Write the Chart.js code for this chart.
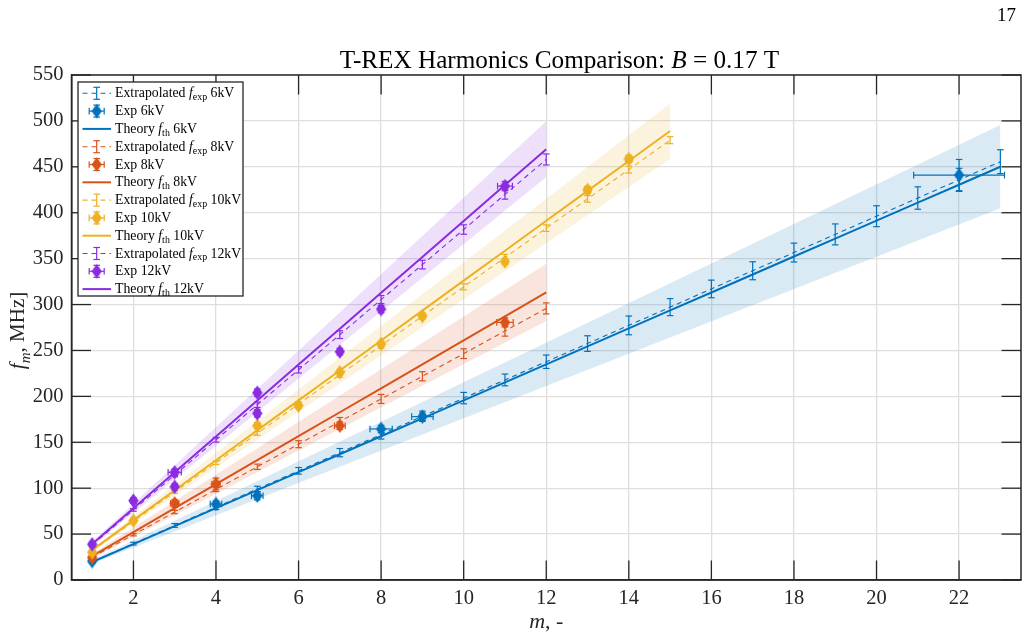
<!DOCTYPE html>
<html><head><meta charset="utf-8">
<script src="https://cdn.jsdelivr.net/npm/chart.js@4.4.1/dist/chart.umd.min.js"></script>
<style>
html,body{margin:0;padding:0;background:#fff;}
#wrap{position:relative;width:1029px;height:640px;}
#pg{position:absolute;left:997px;top:4px;font:19px 'Liberation Serif','Times New Roman',serif;color:#000;}
canvas{display:block;}
</style></head><body>
<div id="wrap"><canvas id="c" width="1029" height="640"></canvas><div id="pg">17</div></div>
<script>
// ---------------- data ----------------
const xTicks = [2, 4, 6, 8, 10, 12, 14, 16, 18, 20, 22];
const yTicks = [0, 50, 100, 150, 200, 250, 300, 350, 400, 450, 500, 550];

// 6 kV
const m6 = [1,2,3,4,5,6,7,8,9,10,11,12,13,14,15,16,17,18,19,20,21,22,23];
const theory6 = [19.6,39.1,58.7,78.3,97.9,117.4,137.0,156.6,176.1,195.7,215.3,234.8,254.4,274.0,293.6,313.1,332.7,352.3,371.8,391.4,411.0,430.5,450.1];
const ext6 = [19.8,39.6,59.4,79.2,99.1,118.9,138.7,158.5,178.3,198.1,217.9,237.7,257.5,277.3,297.2,317.0,336.8,356.6,376.4,396.2,416.0,435.8,455.6];
const extErr6 = [1.0,1.5,2.0,2.5,3.0,3.6,4.5,5.0,5.6,6.2,6.4,7.3,8.5,10.2,9.3,9.6,9.8,10.3,11.4,11.4,12.2,12.6,13.0];
const expM6 = [1, 4, 5, 8, 9, 22];
const expF6 = [20.5, 82.8, 91.8, 164.5, 177.9, 441.0];
const expXErr6 = [0.05, 0.14, 0.14, 0.27, 0.26, 1.1];
const expYErr6 = [2.0, 3.0, 4.5, 4.0, 4.0, 17.0];
const bandM6 = [1, 23];
const bandLo6 = [17.6, 405.0];
const bandHi6 = [21.5, 495.5];

// 8 kV
const m8 = [1,2,3,4,5,6,7,8,9,10,11,12];
const theory8 = [26.1,52.2,78.3,104.4,130.5,156.6,182.7,208.8,234.9,261.0,287.1,313.2];
const ext8 = [24.7,49.3,74.0,98.6,123.3,147.9,172.6,197.2,221.9,246.5,271.2,295.8];
const extErr8 = [0.8,1.3,1.8,2.3,2.9,3.8,4.4,4.9,5.0,5.3,5.6,6.0];
const expM8 = [1, 3, 4, 7, 11];
const expF8 = [24.5, 83.5, 104.6, 168.0, 280.6];
const expXErr8 = [0.05, 0.1, 0.1, 0.13, 0.2];
const expYErr8 = [2.0, 4.0, 6.4, 4.0, 5.0];
const bandM8 = [1, 12];
const bandLo8 = [23.5, 282.0];
const bandHi8 = [28.7, 344.5];

// 10 kV
const m10 = [1,2,3,4,5,6,7,8,9,10,11,12,13,14,15];
const theory10 = [32.6,65.2,97.8,130.4,163.0,195.6,228.2,260.8,293.4,326.0,358.6,391.2,423.8,456.4,489.0];
const ext10 = [31.9,63.9,95.8,127.7,159.7,191.6,223.5,255.4,287.4,319.3,351.2,383.2,415.1,447.0,479.0];
const extErr10 = [0.8,1.2,1.5,1.8,2.1,2.4,2.6,2.8,3.0,3.3,3.4,3.6,3.6,3.8,3.8];
const expM10 = [1, 2, 5, 6, 7, 8, 9, 11, 13, 14];
const expF10 = [30.1, 64.6, 168.1, 189.9, 226.2, 257.0, 287.5, 346.7, 424.8, 458.5];
const expXErr10 = [0.05, 0.05, 0.05, 0.05, 0.05, 0.05, 0.05, 0.05, 0.08, 0.08];
const expYErr10 = [2.0, 2.5, 3.0, 3.0, 3.0, 3.0, 3.0, 3.0, 4.0, 4.0];
const bandM10 = [1, 15];
const bandLo10 = [30.6, 458.5];
const bandHi10 = [34.6, 519.0];

// 12 kV
const m12 = [1,2,3,4,5,6,7,8,9,10,11,12];
const theory12 = [39.1,78.2,117.3,156.4,195.5,234.6,273.7,312.8,351.9,391.0,430.1,469.2];
const ext12 = [38.2,76.3,114.5,152.7,190.9,229.0,267.2,305.4,343.5,381.7,419.9,458.0];
const extErr12 = [0.9,1.4,2.0,2.5,3.0,3.5,4.2,4.4,4.7,5.1,5.1,6.0];
const expM12 = [1, 2, 3, 3, 5, 5, 7, 8, 11];
const expF12 = [38.9, 86.4, 117.3, 101.6, 204.0, 181.5, 248.7, 295.0, 429.0];
const expXErr12 = [0.05, 0.05, 0.16, 0.05, 0.05, 0.05, 0.05, 0.05, 0.18];
const expYErr12 = [2.5, 3.0, 3.5, 3.0, 4.0, 4.0, 3.5, 4.0, 5.0];
const bandM12 = [1, 12];
const bandLo12 = [36.6, 439.0];
const bandHi12 = [41.6, 499.5];

const voltages = ['6kV', '8kV', '10kV', '12kV'];
const titleParts = [['T-REX Harmonics Comparison: ', false], ['B', true], [' = 0.17 T', false]];
// --------------------------------------

const FONT = "'Liberation Serif','Times New Roman',serif";
const INK = '#262626';
const COLORS = ['#0072BD', '#D95319', '#EDB120', '#8A2BE2'];
function rgba(hex, a) {
  const n = parseInt(hex.slice(1), 16);
  return `rgba(${(n >> 16) & 255},${(n >> 8) & 255},${n & 255},${a})`;
}
function diamond(color) {
  const c = document.createElement('canvas');
  c.width = 11; c.height = 15;
  const g = c.getContext('2d');
  g.fillStyle = color;
  g.beginPath(); g.moveTo(5.5, 0.3); g.lineTo(10.7, 7.5); g.lineTo(5.5, 14.7); g.lineTo(0.3, 7.5); g.closePath(); g.fill();
  return c;
}
const pts = (xs, ys) => xs.map((x, i) => ({ x: x, y: ys[i] }));

const series = [
  { m: m6, th: theory6, ext: ext6, extErr: extErr6, eM: expM6, eF: expF6, eX: expXErr6, eY: expYErr6, bM: bandM6, bLo: bandLo6, bHi: bandHi6 },
  { m: m8, th: theory8, ext: ext8, extErr: extErr8, eM: expM8, eF: expF8, eX: expXErr8, eY: expYErr8, bM: bandM8, bLo: bandLo8, bHi: bandHi8 },
  { m: m10, th: theory10, ext: ext10, extErr: extErr10, eM: expM10, eF: expF10, eX: expXErr10, eY: expYErr10, bM: bandM10, bLo: bandLo10, bHi: bandHi10 },
  { m: m12, th: theory12, ext: ext12, extErr: extErr12, eM: expM12, eF: expF12, eX: expXErr12, eY: expYErr12, bM: bandM12, bLo: bandLo12, bHi: bandHi12 }
];

const datasets = [];
series.forEach((s, k) => {
  const col = COLORS[k], v = voltages[k];
  datasets.push({ label: 'Band hi ' + v, kind: 'band', data: pts(s.bM, s.bHi), showLine: true, pointRadius: 0,
    borderColor: 'rgba(0,0,0,0)', borderWidth: 0, backgroundColor: rgba(col, 0.15), fill: '+1', order: 20 - k });
  datasets.push({ label: 'Band lo ' + v, kind: 'band', data: pts(s.bM, s.bLo), showLine: true, pointRadius: 0,
    borderColor: 'rgba(0,0,0,0)', borderWidth: 0, fill: false, order: 20 - k });
  datasets.push({ label: 'Extrapolated f_exp ' + v, kind: 'ext', data: pts(s.m, s.ext), errY: s.extErr, errColor: col,
    showLine: true, pointRadius: 0, borderColor: col, borderWidth: 1.1, borderDash: [5, 4], fill: false, order: 10 - k * 2 });
  datasets.push({ label: 'Theory f_th ' + v, kind: 'th', data: pts(s.m, s.th),
    showLine: true, pointRadius: 0, borderColor: col, borderWidth: 2, fill: false, order: 10 - k * 2 });
  datasets.push({ label: 'Exp ' + v, kind: 'exp', data: pts(s.eM, s.eF), errX: s.eX, errY: s.eY, errColor: col,
    showLine: false, pointStyle: diamond(col), pointRadius: 7, borderColor: col, backgroundColor: col, order: 9 - k * 2 });
});

function seg(ctx, x1, y1, x2, y2) { ctx.beginPath(); ctx.moveTo(x1, y1); ctx.lineTo(x2, y2); ctx.stroke(); }

function drawErr(chart, ds) {
  const ctx = chart.ctx, xs = chart.scales.x, ys = chart.scales.y, cap = 3.3;
  ctx.save();
  ctx.strokeStyle = ds.errColor; ctx.lineWidth = 1.2; ctx.setLineDash([]);
  ds.data.forEach((p, i) => {
    const px = xs.getPixelForValue(p.x), py = ys.getPixelForValue(p.y);
    const ey = ds.errY ? ds.errY[i] : 0, ex = ds.errX ? ds.errX[i] : 0;
    if (ey > 0) {
      const t = ys.getPixelForValue(p.y + ey), b = ys.getPixelForValue(p.y - ey);
      seg(ctx, px, t, px, b); seg(ctx, px - cap, t, px + cap, t); seg(ctx, px - cap, b, px + cap, b);
    }
    if (ex > 0) {
      const l = xs.getPixelForValue(p.x - ex), r = xs.getPixelForValue(p.x + ex);
      seg(ctx, l, py, r, py); seg(ctx, l, py - cap, l, py + cap); seg(ctx, r, py - cap, r, py + cap);
    }
  });
  ctx.restore();
}

const errPlugin = {
  id: 'errbars',
  beforeDatasetDraw(chart, args) { const ds = chart.data.datasets[args.index]; if (ds.kind === 'exp') drawErr(chart, ds); },
  afterDatasetDraw(chart, args) { const ds = chart.data.datasets[args.index]; if (ds.kind === 'ext') drawErr(chart, ds); }
};

// draw mixed text: parts = [text, italic, sub]
function richText(ctx, x, y, parts, size, align) {
  const widths = parts.map(p => {
    const sz = p[2] ? size * 0.72 : size;
    ctx.font = `${p[1] ? 'italic ' : ''}${sz}px ${FONT}`;
    return ctx.measureText(p[0]).width;
  });
  const total = widths.reduce((a, b) => a + b, 0);
  let cx = align === 'center' ? x - total / 2 : x;
  parts.forEach((p, i) => {
    const sz = p[2] ? size * 0.72 : size;
    ctx.font = `${p[1] ? 'italic ' : ''}${sz}px ${FONT}`;
    ctx.fillText(p[0], cx, p[2] ? y + size * 0.28 : y);
    cx += widths[i];
  });
}

const decoPlugin = {
  id: 'deco',
  afterDatasetsDraw(chart) {
    const ctx = chart.ctx, a = chart.chartArea, xs = chart.scales.x, ys = chart.scales.y;
    const TL = 19.5;
    ctx.save();
    ctx.strokeStyle = INK; ctx.lineWidth = 1.3; ctx.setLineDash([]);
    xTicks.forEach(v => { const px = xs.getPixelForValue(v); seg(ctx, px, a.bottom, px, a.bottom - TL); seg(ctx, px, a.top, px, a.top + TL); });
    yTicks.forEach(v => { const py = ys.getPixelForValue(v); seg(ctx, a.left, py, a.left + TL, py); seg(ctx, a.right, py, a.right - TL, py); });
    ctx.lineWidth = 1.5;
    ctx.strokeRect(a.left, a.top, a.right - a.left, a.bottom - a.top);
    ctx.restore();
  },
  afterDraw(chart) {
    const ctx = chart.ctx, a = chart.chartArea;
    ctx.save();
    ctx.fillStyle = '#000'; ctx.textBaseline = 'alphabetic';
    // title
    richText(ctx, 559.5, 68, titleParts.map(p => [p[0], p[1], false]), 25.2, 'center');
    // x axis title
    ctx.fillStyle = INK;
    richText(ctx, (a.left + a.right) / 2, 628, [['m', true, false], [', -', false, false]], 22, 'center');
    // y axis title
    ctx.save();
    ctx.translate(24, (a.top + a.bottom) / 2 + 3);
    ctx.rotate(-Math.PI / 2);
    richText(ctx, 0, 0, [['f', true, false], ['m', true, true], [', MHz]', false, false]], 21, 'center');
    ctx.restore();

    // legend
    const L = 78, T = 82, W = 165, H = 214;
    ctx.fillStyle = '#fff'; ctx.fillRect(L, T, W, H);
    ctx.strokeStyle = INK; ctx.lineWidth = 1.3; ctx.strokeRect(L, T, W, H);
    const x1 = 82.5, x2 = 111, xc = 96.7, tx = 115;
    let i = 0;
    series.forEach((s, k) => {
      const col = COLORS[k], v = voltages[k];
      const entries = [
        ['ext', [['Extrapolated ', false, false], ['f', true, false], ['exp', false, true], [' ' + v, false, false]]],
        ['exp', [['Exp ' + v, false, false]]],
        ['th', [['Theory ', false, false], ['f', true, false], ['th', false, true], [' ' + v, false, false]]]
      ];
      entries.forEach(e => {
        const y = 93.3 + i * 17.8; i++;
        ctx.strokeStyle = col; ctx.fillStyle = col;
        if (e[0] === 'ext') {
          ctx.lineWidth = 1.1; ctx.setLineDash([5, 4]); seg(ctx, x1, y, x2, y); ctx.setLineDash([]);
          ctx.lineWidth = 1.2; seg(ctx, xc, y - 6, xc, y + 6); seg(ctx, xc - 3.3, y - 6, xc + 3.3, y - 6); seg(ctx, xc - 3.3, y + 6, xc + 3.3, y + 6);
        } else if (e[0] === 'exp') {
          ctx.lineWidth = 1.2; ctx.setLineDash([]);
          seg(ctx, xc, y - 6, xc, y + 6); seg(ctx, xc - 3.3, y - 6, xc + 3.3, y - 6); seg(ctx, xc - 3.3, y + 6, xc + 3.3, y + 6);
          seg(ctx, xc - 7.5, y, xc + 7.5, y); seg(ctx, xc - 7.5, y - 3.3, xc - 7.5, y + 3.3); seg(ctx, xc + 7.5, y - 3.3, xc + 7.5, y + 3.3);
          ctx.drawImage(diamond(col), xc - 5.5, y - 7.5);
        } else {
          ctx.lineWidth = 2; ctx.setLineDash([]); seg(ctx, x1, y, x2, y);
        }
        ctx.fillStyle = '#000'; ctx.textBaseline = 'middle';
        richText(ctx, tx, y + 0.5, e[1], 13.8, 'left');
      });
    });
    ctx.restore();
  }
};

new Chart(document.getElementById('c'), {
  type: 'scatter',
  data: { datasets: datasets },
  plugins: [errPlugin, decoPlugin],
  options: {
    responsive: false,
    animation: false,
    events: [],
    layout: { padding: { top: 75, right: 7.5, left: 0, bottom: 0 } },
    elements: { line: { tension: 0 } },
    plugins: { legend: { display: false }, tooltip: { enabled: false }, title: { display: false } },
    scales: {
      x: {
        type: 'linear', min: 0.5, max: 23.5,
        afterBuildTicks: s => { s.ticks = xTicks.map(v => ({ value: v })); },
        afterFit: s => { s.height = 60; },
        grid: { color: '#dedede', lineWidth: 1.3, drawTicks: false },
        border: { display: true, color: INK, width: 1.5 },
        ticks: { color: INK, font: { family: FONT, size: 20.5 }, padding: 6, maxRotation: 0 }
      },
      y: {
        type: 'linear', min: 0, max: 550,
        afterBuildTicks: s => { s.ticks = yTicks.map(v => ({ value: v })); },
        afterFit: s => { s.width = 71.5; },
        grid: { color: '#dedede', lineWidth: 1.3, drawTicks: false },
        border: { display: true, color: INK, width: 1.5 },
        ticks: { color: INK, font: { family: FONT, size: 20.5 }, padding: 8 }
      }
    }
  }
});
</script>
</body></html>
